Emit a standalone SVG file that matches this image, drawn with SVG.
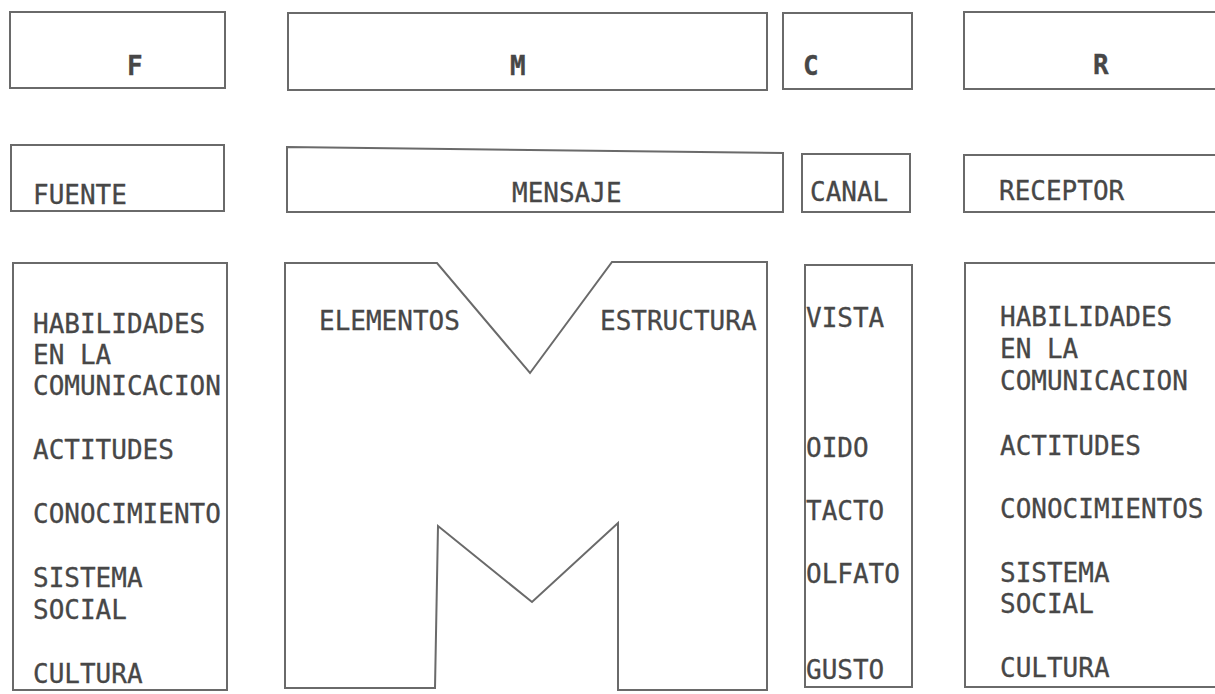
<svg xmlns="http://www.w3.org/2000/svg" width="1215" height="694" viewBox="0 0 1215 694">
<style>
.b{fill:none;stroke:#6a6a6a;stroke-width:2;stroke-linejoin:miter}
.t{font-family:"DejaVu Sans Mono","Liberation Mono",monospace;font-size:26px;fill:#474747;stroke:#474747;stroke-width:0.3}
.h{font-weight:bold}
</style>
<rect width="1215" height="694" fill="#fff"/>
<g id="f-top"><rect class="b" x="10" y="12" width="215" height="76"/><text class="t h" x="127" y="75">F</text></g>
<g id="m-top"><rect class="b" x="288" y="13" width="479" height="77"/><text class="t h" x="510" y="75">M</text></g>
<g id="c-top"><rect class="b" x="783" y="13" width="129" height="76"/><text class="t h" x="803" y="75">C</text></g>
<g id="r-top"><path class="b" d="M1220,12 H964 V89 H1220"/><text class="t h" x="1093" y="74">R</text></g>

<g id="fuente"><rect class="b" x="11" y="145" width="213" height="66"/><text class="t" x="33" y="204">FUENTE</text></g>
<g id="mensaje"><path class="b" d="M287,147 L783,153 V212 H287 Z"/><text class="t" x="512" y="202">MENSAJE</text></g>
<g id="canal"><rect class="b" x="802" y="154" width="108" height="58"/><text class="t" x="810" y="201" font-size="24">CANAL</text></g>
<g id="receptor"><path class="b" d="M1220,155 H964 V212 H1220"/><text class="t" x="999" y="200">RECEPTOR</text></g>

<g id="fuente-detail">
<rect class="b" x="13" y="263" width="214" height="427"/>
<text class="t" x="33" y="333">HABILIDADES</text>
<text class="t" x="33" y="364">EN LA</text>
<text class="t" x="33" y="395">COMUNICACION</text>
<text class="t" x="33" y="459">ACTITUDES</text>
<text class="t" x="33" y="523">CONOCIMIENTO</text>
<text class="t" x="33" y="587">SISTEMA</text>
<text class="t" x="33" y="619">SOCIAL</text>
<text class="t" x="33" y="683">CULTURA</text>
</g>

<g id="mensaje-detail">
<path class="b" d="M285,263 H437 L530,373 L612,262 H767 V690 H618 V523 L532,602 L438,526 L435,688 H285 Z"/>
<text class="t" x="319" y="330">ELEMENTOS</text>
<text class="t" x="600" y="330">ESTRUCTURA</text>
</g>

<g id="canal-detail">
<rect class="b" x="805" y="265" width="107" height="422"/>
<text class="t" x="806" y="327" font-size="25">VISTA</text>
<text class="t" x="806" y="457" font-size="25">OIDO</text>
<text class="t" x="806" y="520" font-size="25">TACTO</text>
<text class="t" x="806" y="583" font-size="25">OLFATO</text>
<text class="t" x="806" y="679" font-size="25">GUSTO</text>
</g>

<g id="receptor-detail">
<path class="b" d="M1220,263 H965 V687 H1220"/>
<text class="t" x="1000" y="326">HABILIDADES</text>
<text class="t" x="1000" y="358">EN LA</text>
<text class="t" x="1000" y="390">COMUNICACION</text>
<text class="t" x="1000" y="455">ACTITUDES</text>
<text class="t" x="1000" y="518">CONOCIMIENTOS</text>
<text class="t" x="1000" y="582">SISTEMA</text>
<text class="t" x="1000" y="613">SOCIAL</text>
<text class="t" x="1000" y="677">CULTURA</text>
</g>
<g id="connectors"/>
</svg>
